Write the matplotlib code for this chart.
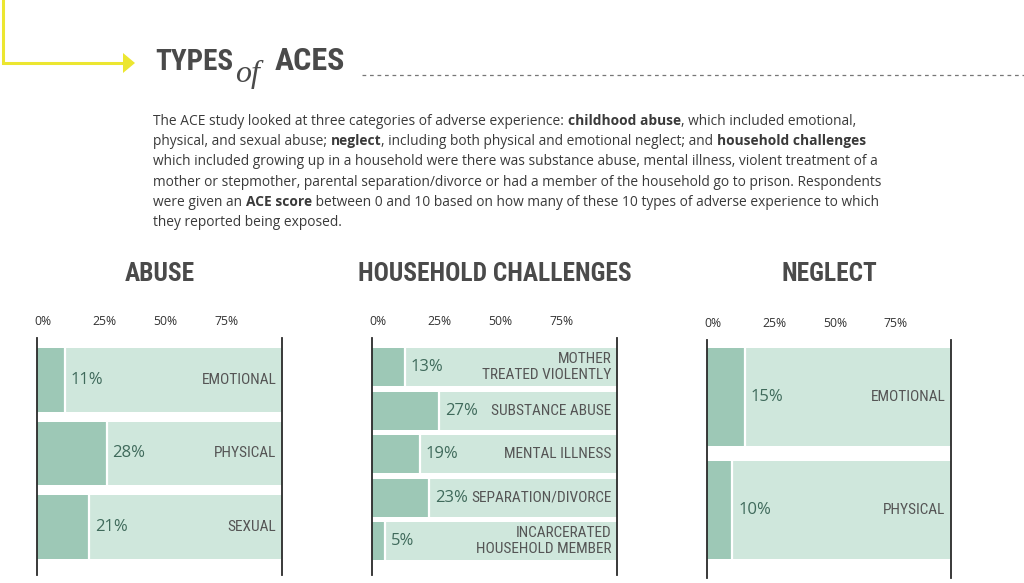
import os
import matplotlib
matplotlib.use('Agg')
import matplotlib.pyplot as plt
from matplotlib import font_manager as fm
from matplotlib.transforms import ScaledTranslation
from matplotlib.patches import Polygon
from matplotlib.lines import Line2D

# ---------------- data ----------------
tick_values = [0, 25, 50, 75]
tick_labels = ['0%', '25%', '50%', '75%']

abuse_cats = ['EMOTIONAL', 'PHYSICAL', 'SEXUAL']
abuse_vals = [11, 28, 21]

household_cats = ['MOTHER\nTREATED VIOLENTLY', 'SUBSTANCE ABUSE', 'MENTAL ILLNESS',
                  'SEPARATION/DIVORCE', 'INCARCERATED\nHOUSEHOLD MEMBER']
household_vals = [13, 27, 19, 23, 5]

neglect_cats = ['EMOTIONAL', 'PHYSICAL']
neglect_vals = [15, 10]

panel_titles = ['ABUSE', 'HOUSEHOLD CHALLENGES', 'NEGLECT']

paragraph = [
    [("The ACE study looked at three categories of adverse experience: ", False),
     ("childhood abuse", True), (", which included emotional,", False)],
    [("physical, and sexual abuse; ", False), ("neglect", True),
     (", including both physical and emotional neglect; and ", False),
     ("household challenges", True)],
    [("which included growing up in a household were there was substance abuse, mental illness, violent treatment of a", False)],
    [("mother or stepmother, parental separation/divorce or had a member of the household go to prison. Respondents", False)],
    [("were given an ", False), ("ACE score", True),
     (" between 0 and 10 based on how many of these 10 types of adverse experience to which", False)],
    [("they reported being exposed.", False)],
]

# ---------------- style ----------------
W, H, DPI = 1024, 583, 100
DARK = '#9dc8b6'
LIGHT = '#cfe7dc'
GRAY_T = '#4a4a4a'
TXT = '#3a3a3a'
PCT = '#3f6a5b'
LAB = '#555555'
YELLOW = '#ece630'


def find_font(keys, bold):
    files = [f.fname for f in fm.fontManager.ttflist]
    for key in keys:
        for fn in files:
            b = os.path.basename(fn).lower()
            if key not in b:
                continue
            if 'italic' in b or 'oblique' in b:
                continue
            if bold:
                if 'bold' in b and 'semi' not in b and 'extra' not in b and 'ultra' not in b:
                    return fm.FontProperties(fname=fn)
            else:
                if not any(s in b for s in ['bold', 'light', 'thin', 'medium', 'black', 'semi']):
                    return fm.FontProperties(fname=fn)
    return None


COND_KEYS = ['robotocondensed', 'liberationsansnarrow', 'opensans_condensed',
             'opensanscondensed', 'dejavusanscondensed']
cond_bold = find_font(COND_KEYS, True)
if cond_bold is None:
    cond_bold = fm.FontProperties(family='DejaVu Sans', weight='bold', stretch='condensed')
cond_reg = find_font(COND_KEYS, False)
if cond_reg is None:
    cond_reg = fm.FontProperties(family='DejaVu Sans', stretch='condensed')


def fp(base, size):
    p = base.copy()
    p.set_size(size)
    return p


fig = plt.figure(figsize=(W / DPI, H / DPI), dpi=DPI)
fig.patch.set_facecolor('white')
renderer = fig.canvas.get_renderer()


def fx(x):
    return x / W


def fy(y):
    return 1 - y / H


# ---------------- header decoration ----------------
fig.add_artist(Line2D([fx(3), fx(3), fx(125)], [fy(0), fy(63), fy(63)],
                      color=YELLOW, lw=2.2, solid_joinstyle='miter'))
fig.add_artist(Polygon([[fx(123), fy(53)], [fx(135), fy(63)], [fx(123), fy(73)]],
                       closed=True, color=YELLOW, lw=0))
fig.add_artist(Line2D([fx(362), fx(1024)], [fy(75), fy(75)], color='#777777',
                      lw=0.9, linestyle=(0, (3, 3))))


def draw_seq(x, y, parts):
    """draw consecutive text pieces on one baseline; parts=(text, props)"""
    for text, props in parts:
        t = fig.text(fx(x), fy(y), text, va='baseline', ha='left', **props)
        bb = t.get_window_extent(renderer=renderer)
        x += bb.width
    return x


draw_seq(155, 70, [("TYPES", dict(fontproperties=fp(cond_bold, 21), color=GRAY_T))])
fig.text(fx(235), fy(82), "of", fontsize=23, family='Liberation Serif', style='italic',
         color=GRAY_T, va='baseline', ha='left')
draw_seq(275, 70, [("ACES", dict(fontproperties=fp(cond_bold, 23), color=GRAY_T))])

# ---------------- paragraph ----------------
for i, line in enumerate(paragraph):
    base = 125 + i * 20.2
    parts = [(t, dict(family='Open Sans', fontsize=9.95,
                      weight='bold' if b else 'normal', color=TXT)) for t, b in line]
    draw_seq(153, base, parts)

# ---------------- panels ----------------
panels = [
    (37, 282, 338, 575, abuse_cats, abuse_vals, 0.571, 0.653, 0.87),
    (372, 617, 338, 575, household_cats, household_vals, 0.667, 0.78, 0.874),
    (707, 951, 340, 578, neglect_cats, neglect_vals, 0.504, 0.60, 0.867),
]

head_fp = fp(cond_bold, 18.3)
lab_fp = fp(cond_reg, 11.1)

for (left, right, top, bottom, cats, vals, mtop, mbot, h), title in zip(panels, panel_titles):
    ax = fig.add_axes([fx(left), fy(bottom), (right - left) / W, (bottom - top) / H])
    n = len(vals)
    ypos = list(range(n))
    ax.barh(ypos, [100] * n, height=h, color=LIGHT, lw=0)
    ax.barh(ypos, vals, height=h, color=DARK, lw=0)
    ax.vlines([v + 0.4 for v in vals], [y - h / 2 for y in ypos], [y + h / 2 for y in ypos],
              color='white', lw=1.6)
    ax.set_xlim(0, 100)
    ax.set_ylim(n - 1 + mbot, -mtop)
    ax.set_facecolor('none')
    for s in ['top', 'bottom']:
        ax.spines[s].set_visible(False)
    for s in ['left', 'right']:
        ax.spines[s].set_color('#2a2a2a')
        ax.spines[s].set_linewidth(1.3)
    ax.set_yticks([])
    ax.xaxis.tick_top()
    ax.set_xticks(tick_values)
    ax.set_xticklabels(tick_labels)
    ax.tick_params(axis='x', length=0, pad=7, labelsize=8.8, labelcolor='#333333')
    off = ScaledTranslation(6 / DPI, 0, fig.dpi_scale_trans)
    for lab in ax.get_xticklabels():
        lab.set_fontfamily('Open Sans')
        lab.set_transform(lab.get_transform() + off)
    for y, v, c in zip(ypos, vals, cats):
        ax.annotate(f'{v}%', (v, y), xytext=(5, 0), textcoords='offset points',
                    ha='left', va='center', fontsize=12, family='Open Sans', color=PCT)
        ax.annotate(c, (100, y), xytext=(-4, 0), textcoords='offset points',
                    ha='right', va='center', fontproperties=lab_fp, color=LAB,
                    multialignment='right', linespacing=1.2)
    fig.text(fx((left + right) / 2), fy(274), title, ha='center', va='center',
             fontproperties=head_fp, color=GRAY_T)

fig.savefig('out.png', dpi=DPI, facecolor='white')
